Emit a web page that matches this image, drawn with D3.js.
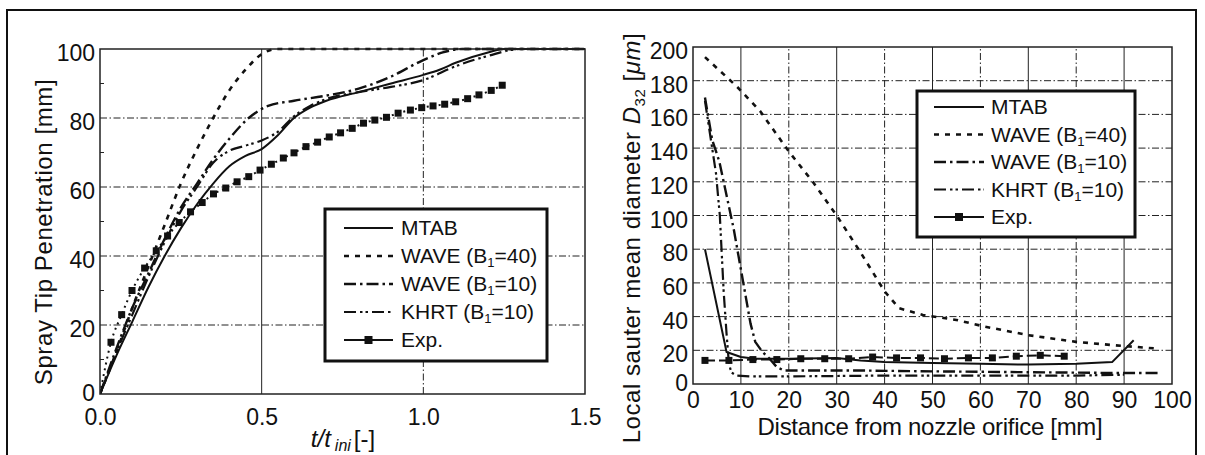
<!DOCTYPE html>
<html>
<head>
<meta charset="utf-8">
<script src="https://cdn.jsdelivr.net/npm/d3@7"></script>
<style>
  body { margin: 0; background: #fff; }
  text { font-family: "Liberation Sans", Arial, sans-serif; fill: #111; }
</style>
</head>
<body>
<div id="viz"></div>
<script>
// ---- data: left chart (spray tip penetration vs t/t_inj) ----
const penTicksX = [0, 0.5, 1.0, 1.5];
const penTicksY = [0, 20, 40, 60, 80, 100];
const penMinorY = [10, 30, 50, 70, 90];

const mtabT   = [0, 0.05, 0.1, 0.15, 0.2, 0.25, 0.3, 0.35, 0.4, 0.45, 0.5, 0.55, 0.6, 0.65, 0.7, 0.8, 0.9, 1.0, 1.05, 1.1, 1.2, 1.25, 1.5];
const mtabPen = [0, 11, 21, 31, 40, 48, 55, 61, 66, 69, 71, 75, 80, 83, 85, 87.5, 90, 92.5, 94, 96, 99, 100, 100];

const wave40T   = [0, 0.05, 0.1, 0.15, 0.2, 0.25, 0.3, 0.35, 0.4, 0.45, 0.5, 0.55, 1.5];
const wave40Pen = [0, 12, 25, 37, 49, 61, 71, 80, 88, 94, 98.5, 100, 100];

const wave10T   = [0, 0.05, 0.1, 0.15, 0.2, 0.25, 0.3, 0.35, 0.4, 0.46, 0.52, 0.6, 0.7, 0.8, 0.9, 1.0, 1.06, 1.12, 1.5];
const wave10Pen = [0, 13, 25, 35, 45, 54, 61, 68, 74, 80, 83.5, 85, 86.5, 88.5, 92, 96.8, 99, 100, 100];

const khrtT   = [0, 0.05, 0.1, 0.15, 0.2, 0.25, 0.3, 0.35, 0.4, 0.45, 0.5, 0.55, 0.6, 0.65, 0.7, 0.8, 0.9, 1.0, 1.1, 1.2, 1.3, 1.5];
const khrtPen = [0, 12, 23, 34, 44, 53, 60, 67, 70.5, 72, 73.5, 76, 80.5, 83.5, 85.5, 87.5, 89, 91, 95, 98, 100, 100];

const expT   = [0, 0.034, 0.067, 0.099, 0.138, 0.174, 0.209, 0.245, 0.28, 0.316, 0.351, 0.389, 0.424, 0.46, 0.495, 0.53, 0.567, 0.6, 0.637, 0.673, 0.709, 0.744, 0.78, 0.815, 0.85, 0.886, 0.922, 0.96, 0.995, 1.03, 1.066, 1.1, 1.137, 1.172, 1.21, 1.244];
const expPen = [0, 15, 23, 30, 36.5, 41.5, 45.8, 49.7, 52.8, 55.5, 58, 59.7, 61.5, 63, 64.9, 66.6, 68.4, 69.9, 71.7, 73, 74.5, 75.7, 77, 78.5, 79.4, 80.2, 81.4, 82.3, 83, 83.5, 84, 84.7, 85.6, 86.7, 88, 89.5];

// ---- data: right chart (local SMD vs distance) ----
const smdTicksX = [0, 10, 20, 30, 40, 50, 60, 70, 80, 90, 100];
const smdTicksY = [0, 20, 40, 60, 80, 100, 120, 140, 160, 180, 200];

const mtabDist = [2.5, 7, 10, 13, 20, 30, 35, 40, 50, 60, 70, 80, 87.5, 92];
const mtabSmd  = [80, 19, 16, 15, 15, 15.5, 14, 13, 12.5, 12, 11.5, 12, 13, 26];

const wave40Dist = [2.5, 9, 14, 20, 25, 30, 35, 40, 43, 48, 55, 61, 70, 80, 88, 97];
const wave40Smd  = [194, 177, 162, 138, 120, 100, 78, 55, 45, 41, 38, 34, 29, 25, 23, 21];

const wave10Dist = [2.5, 4, 5.5, 7, 8.5, 10, 11, 12, 13, 14.5, 16, 17.5, 19, 25, 35, 50, 70, 90, 97];
const wave10Smd  = [170, 145, 132, 112, 92, 68, 52, 36, 25, 19, 15, 10, 8, 8, 8, 7.5, 7, 6.5, 6.5];

const khrtDist = [2.5, 4, 4.8, 5.6, 6.4, 7, 7.5, 8, 9, 12, 20, 40, 60, 80, 90];
const khrtSmd  = [168, 140, 125, 100, 55, 30, 12, 7, 5, 4.5, 4.5, 5, 5, 5, 5.5];

const expDist = [2.5, 7.5, 12.5, 17.5, 22.5, 27.5, 32.5, 37.5, 42.5, 47.5, 52.5, 57.5, 62.5, 67.5, 72.5, 77.5];
const expSmd  = [14, 14, 14.5, 14.5, 15, 15, 15, 16, 15.5, 15.5, 15, 15.5, 15.5, 16.5, 17, 16.5];

const legendNames = ['MTAB', 'WAVE (B1=40)', 'WAVE (B1=10)', 'KHRT  (B1=10)', 'Exp.'];

// ---- styles ----
const styles = {
  mtab:   {dash: null, w: 2},
  wave40: {dash: '5,6', w: 2.6},
  wave10: {dash: '12,4,2.5,4', w: 2.4},
  khrt:   {dash: '12,4,2.5,3,2.5,4', w: 2.2},
  exp:    {dash: null, w: 2}
};

const W = 1205, H = 455;
const svg = d3.select('#viz').append('svg').attr('width', W).attr('height', H);

// outer frame
svg.append('rect').attr('x', 7).attr('y', 10).attr('width', 1189).attr('height', 470)
  .attr('fill', 'none').attr('stroke', '#111').attr('stroke-width', 2);

const gridDash = '7,2.5,1.5,2.5';

function drawPanel(o) {
  const g = svg.append('g');
  const x = o.x, y = o.y;
  const [x0, x1] = x.range(), [y0, y1] = y.range();

  // horizontal grid
  g.selectAll('.hg').data(o.hGrid).join('line')
    .attr('x1', x0).attr('x2', x1).attr('y1', d => y(d)).attr('y2', d => y(d))
    .attr('stroke', '#222').attr('stroke-width', 1).attr('stroke-dasharray', gridDash);
  // vertical grid
  g.selectAll('.vg').data(o.vGrid).join('line')
    .attr('y1', y0).attr('y2', y1).attr('x1', d => x(d.v)).attr('x2', d => x(d.v))
    .attr('stroke', '#222').attr('stroke-width', 1)
    .attr('stroke-dasharray', d => d.solid ? null : gridDash);

  // minor ticks
  g.selectAll('.mt').data(o.minorY || []).join('line')
    .attr('x1', x0).attr('x2', x0 + 4).attr('y1', d => y(d)).attr('y2', d => y(d))
    .attr('stroke', '#222').attr('stroke-width', 1);

  // series
  const clip = 'clip' + o.id;
  svg.append('clipPath').attr('id', clip).append('rect')
    .attr('x', x0).attr('y', y1 - 2).attr('width', x1 - x0).attr('height', y0 - y1 + 2);
  const sg = g.append('g').attr('clip-path', `url(#${clip})`);
  o.series.forEach(s => {
    const pts = s.xs.map((v, i) => [v, s.ys[i]]);
    const line = d3.line().x(d => x(d[0])).y(d => y(d[1])).curve(o.curve);
    sg.append('path').attr('d', line(pts)).attr('fill', 'none')
      .attr('stroke', '#111').attr('stroke-width', s.style.w)
      .attr('stroke-dasharray', s.lineDash !== undefined ? s.lineDash : s.style.dash)
      .attr('stroke-linejoin', 'round');
    if (s.markers) {
      sg.selectAll(null).data(pts.filter(d => s.markerFilter ? s.markerFilter(d) : true)).join('rect')
        .attr('x', d => x(d[0]) - 3.5).attr('y', d => y(d[1]) - 3.5)
        .attr('width', 7).attr('height', 7).attr('fill', '#111');
    }
  });

  // frame
  g.append('rect').attr('x', x0).attr('y', y1).attr('width', x1 - x0).attr('height', y0 - y1)
    .attr('fill', 'none').attr('stroke', '#222').attr('stroke-width', 1.5);

  // y axis labels
  const ya = d3.axisLeft(y).tickValues(o.ticksY).tickSize(0).tickPadding(5).tickFormat(o.fmtY);
  const yg = svg.append('g').attr('transform', `translate(${x0},0)`).call(ya);
  yg.select('.domain').remove();
  yg.selectAll('text').attr('font-size', 23).attr('dy', d => d === 0 ? o.zeroDy : '0.5em')
    .style('font-family', '"Liberation Sans", Arial, sans-serif').attr('fill', '#111');

  // x axis labels
  const xa = d3.axisBottom(x).tickValues(o.ticksX).tickSize(0).tickPadding(o.xPad).tickFormat(o.fmtX);
  const xg = svg.append('g').attr('transform', `translate(0,${y0})`).call(xa);
  xg.select('.domain').remove();
  xg.selectAll('text').attr('font-size', 23)
    .style('font-family', '"Liberation Sans", Arial, sans-serif').attr('fill', '#111');

  // legend
  const L = o.legend;
  svg.append('rect').attr('x', L.x).attr('y', L.y).attr('width', L.w).attr('height', L.h)
    .attr('fill', '#fff').attr('stroke', '#111').attr('stroke-width', 3);
  o.series.forEach((s, i) => {
    const ly = L.y + L.first + i * L.step;
    svg.append('line').attr('x1', L.sx0).attr('x2', L.sx1).attr('y1', ly).attr('y2', ly)
      .attr('stroke', '#111').attr('stroke-width', s.style.w).attr('stroke-dasharray', s.style.dash);
    if (s.markers) {
      svg.append('rect').attr('x', (L.sx0 + L.sx1) / 2 - 4).attr('y', ly - 4)
        .attr('width', 8).attr('height', 8).attr('fill', '#111');
    }
    const t = svg.append('text').attr('x', L.tx).attr('y', ly + 7).attr('font-size', 21);
    const name = legendNames[i];
    const m = name.match(/^(.*\(B)1(=\d+\))$/);
    if (m) {
      t.append('tspan').text(m[1]);
      t.append('tspan').attr('font-size', 13).attr('dy', 4).text('1');
      t.append('tspan').attr('dy', -4).text(m[2]);
    } else {
      t.text(name);
    }
  });
}

// ---- left panel ----
const xL = d3.scaleLinear().domain([0, 1.5]).range([100, 585]);
const yL = d3.scaleLinear().domain([0, 100]).range([394, 49]);
drawPanel({
  id: 'L', x: xL, y: yL, curve: d3.curveMonotoneX,
  hGrid: [20, 40, 60, 80],
  vGrid: [{v: 0.5, solid: true}, {v: 1.0, solid: false}],
  minorY: penMinorY,
  ticksX: penTicksX, ticksY: penTicksY, zeroDy: '0.3em',
  fmtX: d3.format('.1f'), fmtY: d3.format('d'), xPad: 15,
  series: [
    {xs: mtabT, ys: mtabPen, style: styles.mtab},
    {xs: wave40T, ys: wave40Pen, style: styles.wave40},
    {xs: wave10T, ys: wave10Pen, style: styles.wave10},
    {xs: khrtT, ys: khrtPen, style: styles.khrt},
    {xs: expT, ys: expPen, style: styles.exp, lineDash: '2,4', markers: true, markerFilter: d => d[0] > 0}
  ],
  legend: {x: 325, y: 209, w: 222, h: 152, first: 19, step: 28, sx0: 344, sx1: 393, tx: 401}
});

// ---- right panel ----
const xR = d3.scaleLinear().domain([0, 100]).range([693, 1172]);
const yR = d3.scaleLinear().domain([0, 200]).range([384, 47]);
drawPanel({
  id: 'R', x: xR, y: yR, curve: d3.curveLinear,
  hGrid: smdTicksY.slice(1, -1),
  vGrid: smdTicksX.slice(1, -1).map(v => ({v, solid: v % 20 !== 0})),
  ticksX: smdTicksX, ticksY: smdTicksY, zeroDy: '0.3em',
  fmtX: d3.format('d'), fmtY: d3.format('d'), xPad: 8,
  series: [
    {xs: mtabDist, ys: mtabSmd, style: styles.mtab},
    {xs: wave40Dist, ys: wave40Smd, style: styles.wave40},
    {xs: wave10Dist, ys: wave10Smd, style: styles.wave10},
    {xs: khrtDist, ys: khrtSmd, style: styles.khrt},
    {xs: expDist, ys: expSmd, style: styles.exp, lineDash: '10,4', markers: true}
  ],
  legend: {x: 917, y: 91, w: 218, h: 146, first: 16, step: 27.5, sx0: 934, sx1: 984, tx: 991}
});

// ---- axis titles ----
svg.append('text').attr('transform', 'translate(52,232) rotate(-90)')
  .attr('text-anchor', 'middle').attr('font-size', 24).attr('letter-spacing', 0.6)
  .text('Spray Tip Penetration  [mm]');

const xtL = svg.append('text').attr('x', 343).attr('y', 447).attr('text-anchor', 'middle').attr('font-size', 24);
xtL.append('tspan').attr('font-style', 'italic').text('t/t');
xtL.append('tspan').attr('font-style', 'italic').attr('font-size', 16).attr('dx', 4).attr('dy', 4).text('ini');
xtL.append('tspan').attr('dy', -4).attr('dx', 3).text('[-]');

const ytR = svg.append('text').attr('transform', 'translate(640,238) rotate(-90)')
  .attr('text-anchor', 'middle').attr('font-size', 24).attr('letter-spacing', 0.55);
ytR.append('tspan').text('Local sauter mean diameter ');
ytR.append('tspan').attr('font-style', 'italic').text('D');
ytR.append('tspan').attr('font-size', 15).attr('dy', 5).text('32');
ytR.append('tspan').attr('dy', -5).text(' [');
ytR.append('tspan').attr('font-style', 'italic').text('\u03bcm');
ytR.append('tspan').text(']');

svg.append('text').attr('x', 930).attr('y', 435).attr('text-anchor', 'middle')
  .attr('font-size', 24).attr('letter-spacing', -0.3).text('Distance from nozzle orifice [mm]');
</script>
</body>
</html>
